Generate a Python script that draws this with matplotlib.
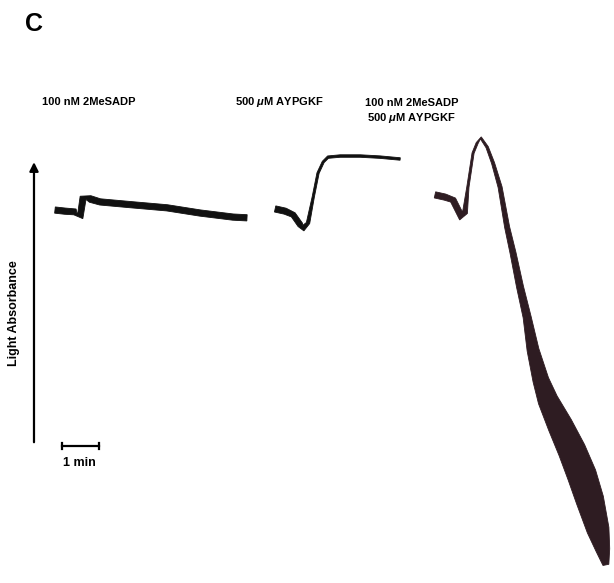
#!/usr/bin/env python3
"""Aggregometry traces (panel C): light absorbance vs time for three agonist conditions."""

import matplotlib

matplotlib.use("Agg")
import matplotlib.pyplot as plt  # noqa: E402
import numpy as np  # noqa: E402

plt.rcParams["font.family"] = ["Liberation Sans", "DejaVu Sans"]
plt.rcParams["mathtext.fontset"] = "custom"
plt.rcParams["mathtext.it"] = "Liberation Sans:italic:bold"
plt.rcParams["mathtext.rm"] = "Liberation Sans:bold"

# time in minutes from the start of each trace, absorbance in arbitrary units,
# noise = thickness of the noisy band in points
madp_time = [0.0, 0.27, 0.54, 0.68, 0.76, 0.95, 1.22, 2.11, 3.03, 3.92, 4.81, 5.19]
madp_abs = [6.35, 6.32, 6.30, 6.16, 6.68, 6.65, 6.57, 6.49, 6.41, 6.27, 6.16, 6.14]
madp_noise = [4.5, 4.5, 4.5, 4.5, 4.8, 4.8, 4.5, 4.5, 4.5, 4.5, 4.5, 4.5]

aypgkf_time = [0.0, 0.27, 0.49, 0.68, 0.76, 0.89, 1.03, 1.16, 1.30, 1.43, 1.76, 2.30, 2.84, 3.38]
aypgkf_abs = [6.38, 6.32, 6.22, 5.95, 5.86, 6.00, 6.70, 7.35, 7.65, 7.78, 7.81, 7.81, 7.78, 7.73]
aypgkf_noise = [4.5, 4.5, 4.0, 4.0, 4.0, 2.5, 1.6, 1.6, 1.6, 1.8, 1.8, 1.8, 1.8, 1.8]

combo_time = [0.0, 0.27, 0.49, 0.73, 0.81, 0.89, 1.03, 1.14, 1.24, 1.41, 1.57, 1.76,
              1.95, 2.11, 2.30, 2.49, 2.65, 2.86, 3.05, 3.38, 3.70, 3.97, 4.19, 4.41,
              4.54, 4.62]
combo_abs = [6.76, 6.70, 6.62, 6.14, 6.27, 6.97, 7.89, 8.16, 8.30, 8.05, 7.62, 6.97,
             5.89, 5.19, 4.27, 3.46, 2.57, 1.76, 1.22, 0.54, -0.14, -0.81, -1.49, -2.30,
             -2.84, -3.24]
combo_noise = [4.5, 4.5, 4.5, 4.5, 3.6, 1.6, 1.5, 1.5, 1.6, 1.8, 2.2, 2.9,
               3.6, 4.3, 5.0, 5.8, 8.6, 11.5, 14.5, 18.0, 20.0, 21.0, 20.0, 16.0,
               10.0, 4.3]

labels = ["100 nM 2MeSADP", "500 $\\mu$M AYPGKF", "100 nM 2MeSADP\n500 $\\mu$M AYPGKF"]


def draw_trace(ax, t0, t, y, noise, color):
    """Fill a band of the given thickness (points) around the trace centre line."""
    data = np.column_stack([np.asarray(t) + t0, np.asarray(y)])
    disp = ax.transData.transform(data)
    tang = np.gradient(disp, axis=0)
    tang /= np.linalg.norm(tang, axis=1, keepdims=True)
    normal = np.column_stack([-tang[:, 1], tang[:, 0]])
    half = np.asarray(noise)[:, None] * ax.figure.dpi / 72 / 2
    upper = disp + normal * half
    lower = disp - normal * half
    poly = np.vstack([upper, lower[::-1]])
    poly = ax.transData.inverted().transform(poly)
    ax.fill(poly[:, 0], poly[:, 1], color=color, linewidth=0.6, edgecolor=color)


fig = plt.figure(figsize=(6.14, 5.83), dpi=100)
ax = fig.add_axes([0, 0, 1, 1])
ax.set_xlim(-62 / 37, (614 - 62) / 37)
ax.set_ylim((445 - 583) / 37, 445 / 37)
ax.axis("off")

draw_trace(ax, -0.19, madp_time, madp_abs, madp_noise, "#111111")
draw_trace(ax, 5.76, aypgkf_time, aypgkf_abs, aypgkf_noise, "#111111")
draw_trace(ax, 10.08, combo_time, combo_abs, combo_noise, "#2e1c22")

# condition labels
ax.text(-0.54, 9.27, labels[0], fontsize=8, fontweight="bold", ha="left", va="center")
ax.text(4.68, 9.27, labels[1], fontsize=8, fontweight="bold", ha="left", va="center")
ax.text(8.19, 9.02, labels[2], fontsize=8, fontweight="bold", ha="left", va="center",
        linespacing=1.35, multialignment="center")

# y axis arrow
ax.annotate("", xy=(-0.757, 7.72), xytext=(-0.757, 0.0),
            arrowprops=dict(arrowstyle="-|>", lw=1.6, color="black", mutation_scale=13))
ax.text(-1.30, 3.57, "Light Absorbance", rotation=90, fontsize=9, fontweight="bold",
        ha="center", va="center")

# 1 min scale bar
ax.plot([0, 1], [-0.03, -0.03], color="black", linewidth=1.6)
ax.plot([0, 0], [-0.12, 0.06], color="black", linewidth=1.6)
ax.plot([1, 1], [-0.12, 0.06], color="black", linewidth=1.6)
ax.text(0.46, -0.49, "1 min", fontsize=9, fontweight="bold", ha="center", va="center")

ax.text(-1.0, 11.38, "C", fontsize=18, fontweight="bold", ha="left", va="center")

fig.savefig("out.png", dpi=100)
